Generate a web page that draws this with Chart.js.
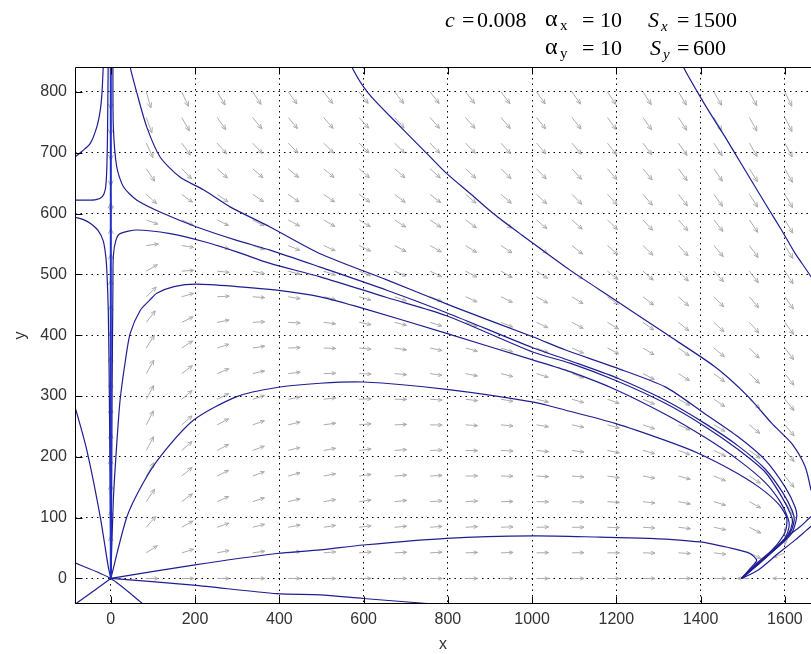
<!DOCTYPE html>
<html><head><meta charset="utf-8">
<script src="https://cdn.jsdelivr.net/npm/chart.js@4.4.0/dist/chart.umd.min.js"></script>
<style>
html,body{margin:0;padding:0;background:#fff;overflow:hidden;}
#wrap{position:relative;width:811px;height:654px;}
canvas{position:absolute;left:0;top:0;}
.t{position:absolute;font-family:'Liberation Serif','Times New Roman',serif;font-size:22px;line-height:22px;color:#000;white-space:pre;}
.s{position:absolute;font-family:'Liberation Serif','Times New Roman',serif;font-size:15px;line-height:15px;color:#000;white-space:pre;}
.g{font-size:24px;}
</style></head>
<body><div id="wrap"><canvas id="c" width="811" height="654"></canvas>
<span class="t" style="left:445px;top:8.6px;font-style:italic">c</span>
<span class="t" style="left:462px;top:8.6px">=</span>
<span class="t" style="left:477px;top:8.6px">0.008</span>
<span class="t g" style="left:545px;top:7px">α</span>
<span class="s" style="left:560px;top:18.4px">x</span>
<span class="t" style="left:582px;top:8.6px">=</span>
<span class="t" style="left:600px;top:8.6px">10</span>
<span class="t" style="left:648px;top:8.6px;font-style:italic">S</span>
<span class="s" style="left:661px;top:19.4px;font-style:italic">x</span>
<span class="t" style="left:677px;top:8.6px">=</span>
<span class="t" style="left:693px;top:8.6px">1500</span>
<span class="t g" style="left:545px;top:35px">α</span>
<span class="s" style="left:560px;top:46.4px">y</span>
<span class="t" style="left:582px;top:36.6px">=</span>
<span class="t" style="left:600px;top:36.6px">10</span>
<span class="t" style="left:650px;top:36.6px;font-style:italic">S</span>
<span class="s" style="left:663px;top:47.4px;font-style:italic">y</span>
<span class="t" style="left:677px;top:36.6px">=</span>
<span class="t" style="left:693px;top:36.6px">600</span>
</div>
<script>
// ---- axis ticks ----
const xTicks = [0,200,400,600,800,1000,1200,1400,1600];
const yTicks = [0,100,200,300,400,500,600,700,800];

// ---- direction-field grid (arrow tails) ----
const gridX = [0,84.2,168.4,252.6,336.8,421.1,505.3,589.5,673.7,757.9,842.1,926.3,1010.5,1094.7,1178.9,1263.2,1347.4,1431.6,1515.8,1600];
const gridY = [0,42.1,84.2,126.3,168.4,210.5,252.6,294.7,336.8,378.9,421.1,463.2,505.3,547.4,589.5,631.6,673.7,715.8,757.9,800];
// arrow direction on screen, degrees counter-clockwise from +x; one row per gridY value
const arrowAngles = [
 [null,0,0,0,0,0,0,0,0,0,0,0,0,0,0,0,0,0,180,180],
 [90,33,17,11,8,7,5,4,3,3,2,2,1,1,0,-1,-3,-7,-26,-158],
 [90,49,29,19,14,11,9,7,5,4,3,2,1,0,-2,-4,-7,-12,-27,-89],
 [90,56,36,24,18,13,10,8,6,4,3,1,-1,-2,-4,-7,-11,-17,-29,-58],
 [90,60,40,27,20,15,11,8,5,3,1,-1,-3,-5,-8,-11,-15,-22,-33,-51],
 [90,62,41,28,20,14,10,7,4,2,-1,-3,-6,-8,-11,-15,-20,-26,-36,-50],
 [90,63,41,28,19,13,8,5,2,-1,-4,-6,-9,-12,-15,-19,-24,-30,-39,-50],
 [90,62,40,26,17,10,6,2,-1,-4,-7,-10,-13,-16,-19,-23,-28,-34,-41,-51],
 [90,61,37,23,13,7,2,-2,-5,-8,-11,-14,-17,-20,-23,-27,-32,-37,-44,-52],
 [90,58,33,18,9,2,-2,-6,-9,-12,-15,-18,-21,-24,-27,-31,-35,-40,-46,-53],
 [90,52,26,11,3,-3,-7,-11,-14,-17,-19,-22,-25,-28,-31,-35,-39,-43,-48,-54],
 [90,44,16,3,-4,-9,-13,-16,-19,-21,-24,-26,-29,-32,-35,-38,-42,-46,-50,-55],
 [90,30,4,-6,-12,-15,-18,-21,-23,-26,-28,-30,-33,-35,-38,-41,-45,-48,-52,-57],
 [90,8,-9,-16,-19,-22,-24,-26,-28,-30,-32,-34,-36,-39,-41,-44,-47,-50,-54,-58],
 [90,-20,-24,-26,-27,-28,-30,-31,-33,-34,-36,-38,-40,-42,-44,-47,-49,-52,-56,-59],
 [-90,-42,-36,-35,-34,-35,-35,-36,-37,-38,-40,-41,-43,-45,-47,-49,-52,-54,-57,-60],
 [-90,-56,-46,-42,-41,-40,-40,-41,-41,-42,-43,-45,-46,-48,-49,-51,-54,-56,-58,-61],
 [-90,-65,-54,-49,-47,-45,-45,-45,-45,-46,-46,-48,-49,-50,-52,-53,-55,-57,-60,-62],
 [-90,-70,-60,-55,-51,-50,-49,-48,-48,-49,-49,-50,-51,-52,-54,-55,-57,-59,-61,-63],
 [-90,-74,-65,-59,-56,-54,-52,-52,-52,-52,-52,-53,-54,-55,-56,-57,-59,-60,-62,-64]
];

// ---- trajectories [x, y] ----
const trajYaxis = [[0,0],[0,860]];
const trajC1 = [[-90,691],[-85,693],[-69,702],[-49,715],[-33,743],[-25,770],[-21,798],[-18,841],[-17,860]];
const trajC2 = [[-90,622],[-85,622],[-60,622],[-35,623],[-20,628],[-13,640],[-10,665],[-8,720],[-7,790],[-6,860]];
const trajC3 = [[-90,595],[-85,594],[-65,590],[-49,584],[-30,572],[-18,555],[-12,530],[-9,500],[-6,440],[-4,340],[-2,180],[0,0]];
const trajA = [[44,860],[46,841],[62,798],[85,743],[117,693],[164,660],[220,639],[283,611],[378,578],[497,534],[655,491],[813,447],[1003,397],[1078,376],[1197,347],[1316,315],[1410,271],[1489,233],[1553,195],[1600,151],[1624,118],[1628,101],[1616,74],[1584,52],[1537,25],[1497,0]];
const trajB = [[5,860],[5,841],[6,743],[14,677],[30,644],[62,622],[125,600],[204,578],[299,556],[378,540],[497,512],[655,474],[797,437],[1003,379],[1090,358],[1200,330],[1316,293],[1410,255],[1489,218],[1553,180],[1596,140],[1618,110],[1622,95],[1610,72],[1580,50],[1537,25],[1497,0]];
const trajD = [[0,0],[2,150],[3,300],[5,480],[6,530],[12,556],[22,567],[62,573],[141,567],[220,554],[299,537],[378,518],[497,496],[655,462],[797,432],[1003,372],[1090,354],[1200,325],[1316,288],[1410,250],[1489,212],[1553,175],[1592,135],[1614,105],[1618,92],[1606,70],[1578,49],[1537,24],[1497,0]];
const trajE = [[0,0],[6,129],[14,220],[22,293],[35,360],[46,403],[70,441],[93,458],[109,469],[150,480],[204,484],[299,480],[394,474],[497,463],[599,444],[797,403],[1003,359],[1090,340],[1200,310],[1316,270],[1410,232],[1489,195],[1553,158],[1590,125],[1608,98],[1610,85],[1600,66],[1575,47],[1537,23],[1497,0]];
const trajF = [[0,0],[38,101],[75,155],[117,200],[196,260],[299,299],[394,314],[497,321],[599,323],[797,311],[1003,290],[1078,277],[1197,255],[1316,227],[1394,206],[1474,178],[1537,151],[1584,123],[1604,101],[1602,79],[1584,58],[1560,40],[1530,20],[1497,0]];
const trajH = [[0,0],[196,22],[394,41],[497,47],[599,55],[797,66],[1003,70],[1162,68],[1280,66],[1398,60],[1477,49],[1517,41],[1533,30],[1521,19],[1497,0]];
const trajI = [[0,0],[196,-11],[394,-25],[497,-27],[599,-33],[766,-42],[800,-44]];
const trajG = [[-90,290],[-85,282],[-57,211],[-25,101],[-6,19],[0,0]];
const trajJ = [[-90,27],[0,0],[80,-44]];
const trajK = [[-90,-45],[0,0]];
const trajL = [[565,860],[572,841],[611,798],[687,743],[750,699],[797,666],[853,633],[908,600],[971,567],[1090,507],[1197,458],[1316,403],[1434,348],[1513,299],[1569,255],[1616,222],[1648,184],[1662,145],[1670,110]];
const trajM = [[1350,860],[1359,841],[1394,798],[1418,770],[1458,726],[1505,672],[1553,617],[1592,573],[1624,535],[1662,496],[1690,460]];
const trajR1 = [[1680,110],[1661,101],[1636,85],[1604,68],[1580,52],[1533,25],[1497,0]];
const trajR2 = [[1680,95],[1661,85],[1624,63],[1584,41],[1537,14],[1497,0]];

const trajectories = [trajC1,trajC2,trajC3,trajA,trajB,trajD,trajE,trajF,trajH,trajI,trajG,trajJ,trajK,trajL,trajM,trajR1,trajR2];

// ---- build datasets ----
const arrowPts = [], arrowAng = [];
gridY.forEach((y,j)=>gridX.forEach((x,i)=>{
  const a = arrowAngles[j][i];
  if (a === null) return;
  arrowPts.push({x:x,y:y}); arrowAng.push(a);
}));

const lineColor = '#1e1e92';
const datasets = [{data: arrowPts, pointRadius:0, showLine:false}];
datasets.push({data: trajYaxis.map(p=>({x:p[0],y:p[1]})), showLine:true, pointRadius:0, borderColor:'#2030c8', borderWidth:2, tension:0});
trajectories.forEach(t=>{
  datasets.push({data: t.map(p=>({x:p[0],y:p[1]})), showLine:true, pointRadius:0, borderColor:lineColor, borderWidth:1.2, tension:0.25});
});

const quiverPlugin = {
  id:'quiver',
  beforeDatasetsDraw(chart){
    const meta = chart.getDatasetMeta(0);
    const ctx = chart.ctx, ca = chart.chartArea;
    ctx.save();
    ctx.beginPath(); ctx.rect(ca.left, ca.top, ca.right-ca.left, ca.bottom-ca.top); ctx.clip();
    ctx.strokeStyle = '#acacac'; ctx.lineWidth = 1;
    meta.data.forEach((pt,k)=>{
      const th = arrowAng[k]*Math.PI/180;
      const c = Math.cos(th), s = Math.sin(th);
      const L = 12/Math.sqrt(c*c + 0.477*s*s);
      const x0 = pt.x, y0 = pt.y, x1 = x0 + L*c, y1 = y0 - L*s;
      const h = 0.35*L, ha = 0.42;
      ctx.beginPath();
      ctx.moveTo(x0,y0); ctx.lineTo(x1,y1);
      ctx.moveTo(x1 - h*Math.cos(th-ha), y1 + h*Math.sin(th-ha));
      ctx.lineTo(x1,y1);
      ctx.lineTo(x1 - h*Math.cos(th+ha), y1 + h*Math.sin(th+ha));
      ctx.stroke();
    });
    ctx.restore();
  }
};

const framePlugin = {
  id:'frame',
  afterDatasetsDraw(chart){
    const ctx = chart.ctx, ca = chart.chartArea, sx = chart.scales.x, sy = chart.scales.y;
    ctx.save(); ctx.strokeStyle = '#000'; ctx.lineWidth = 1;
    const L = Math.round(ca.left)+0.5, T = Math.round(ca.top)+0.5, B = Math.round(ca.bottom)-0.5, R = ca.right+2;
    ctx.beginPath();
    ctx.moveTo(R,T); ctx.lineTo(L,T); ctx.lineTo(L,B); ctx.lineTo(R,B);
    xTicks.forEach(v=>{
      const px = Math.round(sx.getPixelForValue(v))+0.5;
      ctx.moveTo(px,B); ctx.lineTo(px,B-7);
      ctx.moveTo(px,T); ctx.lineTo(px,T+7);
    });
    yTicks.forEach(v=>{
      const py = Math.round(sy.getPixelForValue(v))+0.5;
      ctx.moveTo(L,py); ctx.lineTo(L+7,py);
    });
    ctx.stroke(); ctx.restore();
  }
};

const tickFont = {family:"'Liberation Sans', Arial, sans-serif", size:16};
new Chart(document.getElementById('c'), {
  type:'scatter',
  data:{datasets:datasets},
  options:{
    responsive:false, animation:false, devicePixelRatio:1,
    layout:{padding:{top:67,left:0,right:0,bottom:0}},
    plugins:{legend:{display:false}, tooltip:{enabled:false}},
    scales:{
      x:{type:'linear', min:-85, max:1662,
        afterBuildTicks:s=>{s.ticks = xTicks.map(v=>({value:v}));},
        afterFit:s=>{s.height = 50;},
        ticks:{callback:v=>String(v), font:tickFont, color:'#333', padding:6, maxRotation:0, autoSkip:false},
        grid:{color:'#000', lineWidth:1, drawTicks:false},
        border:{display:false, dash:[1.5,4]},
        title:{display:true, text:'x', font:tickFont, color:'#333', padding:{top:0,bottom:0}}
      },
      y:{type:'linear', min:-42, max:841,
        afterBuildTicks:s=>{s.ticks = yTicks.map(v=>({value:v}));},
        afterFit:s=>{s.width = 75;},
        ticks:{callback:v=>String(v), font:tickFont, color:'#333', padding:8, autoSkip:false},
        grid:{color:'#000', lineWidth:1, drawTicks:false},
        border:{display:false, dash:[1.5,4]},
        title:{display:true, text:'y', font:tickFont, color:'#333', padding:{top:11,bottom:0}}
      }
    }
  },
  plugins:[quiverPlugin, framePlugin]
});
</script>
</body></html>
